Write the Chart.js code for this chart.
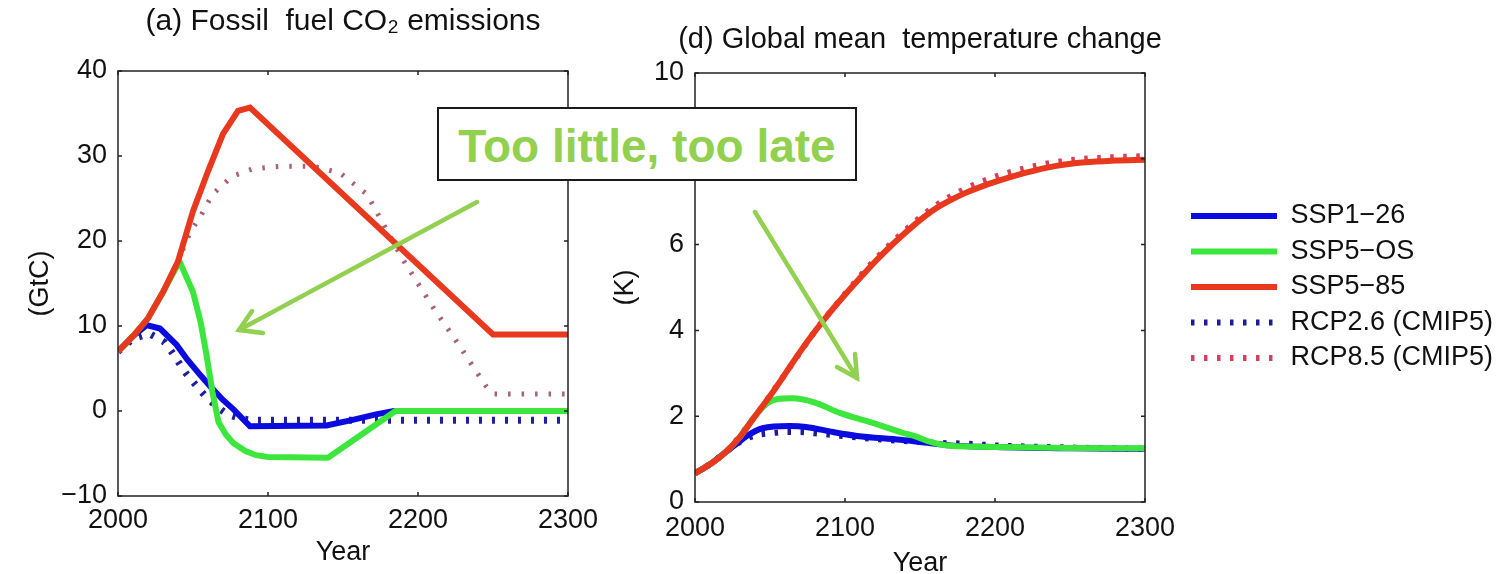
<!DOCTYPE html>
<html>
<head>
<meta charset="utf-8">
<script src="https://cdn.jsdelivr.net/npm/chart.js@4.4.1/dist/chart.umd.min.js"></script>
<style>
  html, body { margin: 0; padding: 0; background: #fff; }
  body { width: 1506px; height: 574px; position: relative; overflow: hidden; }
  #co2Wrap { position: absolute; left: 0; top: 0; width: 640px; height: 574px; }
  #tempWrap { position: absolute; left: 600px; top: 0; width: 906px; height: 574px; }
  #arrows { position: absolute; left: 0; top: 0; }
  #note {
    position: absolute; left: 437px; top: 107px; width: 416px; height: 70px;
    border: 2px solid #1a1a1a; background: #fff; color: #92d050;
    font: bold 46px "Liberation Sans", Arial, sans-serif;
    text-align: center; line-height: 74px; white-space: nowrap;
  }
</style>
</head>
<body>
<div id="co2Wrap"><canvas id="co2"></canvas></div>
<div id="tempWrap"><canvas id="temp"></canvas></div>
<svg id="arrows" width="1506" height="574">
  <g stroke="#92d050" stroke-width="4.5" fill="none" stroke-linecap="round">
    <line x1="477" y1="202" x2="239" y2="330" />
    <polyline points="252,311 239,330 263,333" />
    <line x1="755" y1="212" x2="857" y2="378" />
    <polyline points="855,354 857,378 837,367" />
  </g>
</svg>
<div id="note">Too little, too late</div>

<script>
// ---- (a) fossil fuel CO2 emissions (GtC) ----
const ssp126Co2Years = [2000, 2010, 2019, 2028, 2039, 2046, 2055, 2063, 2070, 2077, 2088, 2139, 2155, 2172, 2184, 2300];
const ssp126Co2 = [7.0, 8.8, 10.1, 9.7, 7.8, 6.1, 4.2, 2.6, 1.3, 0.2, -1.8, -1.7, -1.1, -0.4, 0.0, 0.0];

const ssp5osCo2Years = [2000, 2010, 2020, 2030, 2041, 2050, 2055, 2059, 2063, 2067, 2072, 2077, 2085, 2092, 2100, 2140, 2185, 2300];
const ssp5osCo2 = [7.0, 8.8, 10.9, 14.0, 17.6, 14.0, 10.5, 6.6, 2.2, -1.3, -2.8, -3.8, -4.7, -5.2, -5.4, -5.5, 0.0, 0.0];

const ssp585Co2Years = [2000, 2010, 2020, 2030, 2040, 2050, 2060, 2070, 2080, 2088, 2250, 2300];
const ssp585Co2 = [7.0, 8.8, 10.9, 14.0, 17.6, 23.5, 28.2, 32.6, 35.3, 35.7, 9.0, 9.0];

const rcp26Co2Years = [2000, 2010, 2021, 2031, 2036, 2045, 2053, 2059, 2066, 2073, 2082, 2090, 2300];
const rcp26Co2 = [7.0, 8.5, 9.1, 8.1, 6.9, 4.5, 2.8, 1.6, 0.5, -0.4, -0.9, -1.1, -1.1];

const rcp85Co2Years = [2000, 2010, 2020, 2030, 2040, 2048, 2055, 2063, 2076, 2090, 2110, 2130, 2148, 2166, 2180, 2190, 2210, 2226, 2245, 2250, 2300];
const rcp85Co2 = [7.0, 8.8, 10.9, 14.0, 17.6, 21.0, 22.9, 25.5, 27.6, 28.5, 28.8, 28.8, 28.0, 25.5, 21.0, 17.8, 12.2, 8.1, 3.0, 2.0, 2.0];

// ---- (d) global mean temperature change (K) ----
const ssp126TempYears = [2000, 2010, 2020, 2030, 2035, 2045, 2063, 2074, 2092, 2108, 2137, 2155, 2170, 2200, 2250, 2300];
const ssp126Temp = [0.67, 0.88, 1.15, 1.42, 1.55, 1.72, 1.77, 1.75, 1.63, 1.54, 1.45, 1.38, 1.32, 1.28, 1.25, 1.24];

const ssp5osTempYears = [2000, 2010, 2020, 2030, 2040, 2048, 2055, 2065, 2079, 2097, 2119, 2137, 2148, 2157, 2170, 2203, 2248, 2300];
const ssp5osTemp = [0.67, 0.88, 1.15, 1.52, 2.0, 2.3, 2.4, 2.42, 2.33, 2.07, 1.84, 1.63, 1.52, 1.4, 1.31, 1.28, 1.26, 1.25];

const ssp585TempYears = [2000, 2010, 2020, 2030, 2040, 2050, 2060, 2070, 2080, 2090, 2100, 2110, 2120, 2130, 2140, 2150, 2160, 2170, 2180, 2190, 2200, 2220, 2240, 2260, 2280, 2300];
const ssp585Temp = [0.67, 0.88, 1.15, 1.52, 2.0, 2.47, 2.98, 3.5, 3.98, 4.42, 4.83, 5.22, 5.6, 5.95, 6.27, 6.57, 6.83, 7.03, 7.2, 7.34, 7.46, 7.67, 7.83, 7.92, 7.96, 7.98];

const rcp26TempYears = [2000, 2010, 2020, 2030, 2040, 2050, 2060, 2070, 2080, 2090, 2100, 2120, 2140, 2160, 2180, 2200, 2250, 2300];
const rcp26Temp = [0.67, 0.88, 1.15, 1.4, 1.55, 1.6, 1.63, 1.63, 1.6, 1.57, 1.53, 1.47, 1.42, 1.38, 1.36, 1.32, 1.27, 1.24];

const rcp85TempYears = [2000, 2020, 2040, 2060, 2080, 2100, 2120, 2140, 2160, 2180, 2200, 2220, 2240, 2260, 2280, 2300];
const rcp85Temp = [0.67, 1.15, 2.0, 2.98, 3.98, 4.85, 5.65, 6.33, 6.9, 7.3, 7.58, 7.78, 7.92, 8.0, 8.04, 8.06];

const seriesNames = ['SSP1\u221226', 'SSP5\u2212OS', 'SSP5\u221285', 'RCP2.6 (CMIP5)', 'RCP8.5 (CMIP5)'];
const xTicks = [2000, 2100, 2200, 2300];

const FONT = '"Liberation Sans", Arial, sans-serif';
const INK = '#111';

const pts = (xs, ys) => xs.map((x, i) => ({ x, y: ys[i] }));
const minus = v => String(v).replace('-', '\u2212');

// box round the plot area plus inward ticks, matlab style
const boxTicks = {
  id: 'boxTicks',
  afterDatasetsDraw(chart) {
    const { ctx, chartArea: a, scales: { x, y } } = chart;
    ctx.save();
    ctx.strokeStyle = '#222';
    ctx.lineWidth = 1.5;
    ctx.strokeRect(a.left, a.top, a.right - a.left, a.bottom - a.top);
    ctx.beginPath();
    x.ticks.forEach(t => {
      const px = x.getPixelForValue(t.value);
      ctx.moveTo(px, a.bottom); ctx.lineTo(px, a.bottom - 4);
      ctx.moveTo(px, a.top); ctx.lineTo(px, a.top + 4);
    });
    y.ticks.forEach(t => {
      const py = y.getPixelForValue(t.value);
      ctx.moveTo(a.left, py); ctx.lineTo(a.left + 4, py);
      ctx.moveTo(a.right, py); ctx.lineTo(a.right - 4, py);
    });
    ctx.stroke();
    ctx.restore();
  }
};

// the title sits over the plot box but may run a bit wider than it
const titleRoom = {
  id: 'titleRoom',
  afterLayout(chart) {
    const t = chart.titleBlock;
    if (t) { t.left -= 40; t.right += 40; }
  }
};

function xScale(height, labelPad, titlePad, lineHeight) {
  return {
    type: 'linear', min: 2000, max: 2300,
    afterBuildTicks: s => { s.ticks = xTicks.map(v => ({ value: v })); },
    afterFit: s => { s.height = height; },
    grid: { display: false, drawTicks: false },
    border: { display: false },
    ticks: { padding: labelPad, maxRotation: 0, color: INK, font: { family: FONT, size: 27 }, callback: v => String(v) },
    title: { display: true, text: 'Year', color: INK, padding: { top: 0, bottom: titlePad }, font: { family: FONT, size: 27, lineHeight } }
  };
}

function yScale(min, max, step, width, label, titlePad) {
  return {
    min, max,
    afterFit: s => { s.width = width; },
    grid: { display: false, drawTicks: false },
    border: { display: false },
    ticks: { stepSize: step, padding: 11, color: INK, font: { family: FONT, size: 27 }, callback: minus },
    title: { display: true, text: label, color: INK, padding: { top: titlePad, bottom: 0 }, font: { family: FONT, size: 27 } }
  };
}

function line(label, data, color, width, order, dash, smooth) {
  return {
    label, data, order,
    borderColor: color, backgroundColor: color,
    borderWidth: width, borderDash: dash || [],
    pointRadius: 0, fill: false,
    tension: 0, cubicInterpolationMode: smooth ? 'monotone' : 'default'
  };
}

// nudge the right padding so the plot box ends where the reference has it
function pinRight(chart, target) {
  for (let i = 0; i < 3; i++) {
    const off = chart.chartArea.right - target;
    if (Math.abs(off) < 0.5) break;
    chart.options.layout.padding.right += off;
    chart.update('none');
  }
}

const BLUE = '#0b0be0', GREEN = '#3ce63c', RED = '#e8391e';

const co2Chart = new Chart(document.getElementById('co2'), {
  type: 'line',
  data: {
    datasets: [
      line(seriesNames[0], pts(ssp126Co2Years, ssp126Co2), BLUE, 6, 2),
      line(seriesNames[1], pts(ssp5osCo2Years, ssp5osCo2), GREEN, 6, 1),
      line(seriesNames[2], pts(ssp585Co2Years, ssp585Co2), RED, 6, 0),
      line(seriesNames[3], pts(rcp26Co2Years, rcp26Co2), '#1e1e9e', 7, 3, [3, 10]),
      line(seriesNames[4], pts(rcp85Co2Years, rcp85Co2), '#a8607a', 5, 4, [2.5, 11])
    ]
  },
  options: {
    responsive: true, maintainAspectRatio: false, animation: false,
    layout: { padding: { left: 0, right: 72, top: 0, bottom: 0 } },
    plugins: {
      legend: { display: false },
      tooltip: { enabled: false },
      title: {
        display: true, fullSize: false,
        text: '(a) Fossil  fuel CO\u2082 emissions',
        color: INK, font: { family: FONT, size: 30, weight: 'normal' },
        padding: { top: 4, bottom: 31 }
      }
    },
    scales: {
      x: xScale(78, 8, 5, 1.2),
      y: yScale(-10, 40, 10, 118, '(GtC)', 24)
    }
  },
  plugins: [boxTicks, titleRoom]
});
pinRight(co2Chart, 568);

const LEGEND_X = 591;
const legendSpot = {
  id: 'legendSpot',
  afterLayout(chart) {
    const lg = chart.legend;
    const dx = LEGEND_X - lg.options.labels.padding - lg.left;
    lg.left += dx;
    lg.right = Math.max(lg.right + dx, chart.width);
  }
};

const tempChart = new Chart(document.getElementById('temp'), {
  type: 'line',
  data: {
    datasets: [
      line(seriesNames[0], pts(ssp126TempYears, ssp126Temp), BLUE, 6, 2, null, true),
      line(seriesNames[1], pts(ssp5osTempYears, ssp5osTemp), GREEN, 6, 1, null, true),
      line(seriesNames[2], pts(ssp585TempYears, ssp585Temp), RED, 6, 0, null, true),
      line(seriesNames[3], pts(rcp26TempYears, rcp26Temp), '#1c1c9a', 6, 3, [3.5, 9.5], true),
      line(seriesNames[4], pts(rcp85TempYears, rcp85Temp), '#d4405e', 6, 4, [3.5, 9.5], true)
    ]
  },
  options: {
    responsive: true, maintainAspectRatio: false, animation: false,
    layout: { padding: { left: 0, right: 0, top: 0, bottom: 0 } },
    plugins: {
      tooltip: { enabled: false },
      title: {
        display: true, fullSize: false,
        text: '(d) Global mean  temperature change',
        color: INK, font: { family: FONT, size: 29, weight: 'normal' },
        padding: { top: 22.6, bottom: 15.6 }
      },
      legend: {
        position: 'right',
        maxWidth: 500,
        labels: {
          color: INK, font: { family: FONT, size: 27 }, padding: 8.5,
          usePointStyle: true, pointStyle: 'line', pointStyleWidth: 86,
          sort: (a, b) => a.datasetIndex - b.datasetIndex,
          generateLabels: chart => Chart.defaults.plugins.legend.labels.generateLabels(chart).map(item => {
            const ds = chart.data.datasets[item.datasetIndex];
            return Object.assign(item, { lineWidth: ds.borderWidth, lineDash: ds.borderDash, strokeStyle: ds.borderColor, pointStyle: 'line' });
          })
        }
      }
    },
    scales: {
      x: xScale(72, 10, -3, 1),
      y: yScale(0, 10, 2, 95, '(K)', 9)
    }
  },
  plugins: [boxTicks, titleRoom, legendSpot]
});
pinRight(tempChart, 545);
</script>
</body>
</html>
